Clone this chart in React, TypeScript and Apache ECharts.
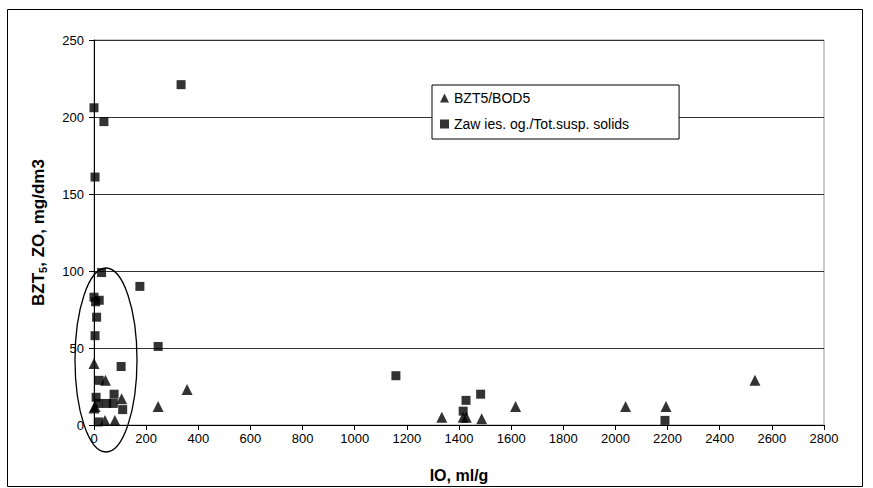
import React, { useEffect, useRef } from "react";
import * as echarts from "echarts";

// BZT5 / BOD5 (triangles)
const bodIO = [0, 44, 106, 4, 0, 42, 80, 246, 357, 1334, 1416, 1428, 1487, 1617, 2039, 2194, 2535];
const bodVal = [40, 29, 17, 12, 11, 3, 3, 12, 23, 5, 5, 5, 4, 12, 12, 12, 29];

// Zawiesiny ogólne / Total suspended solids (squares)
const tssIO = [0, 38, 4, 334, 29, 176, 0, 20, 6, 10, 4, 246, 104, 20, 8, 77, 17, 49, 74, 110, 17, 1158, 1427, 1483, 1416, 2190];
const tssVal = [206, 197, 161, 221, 99, 90, 83, 81, 80, 70, 58, 51, 38, 29, 18, 20, 14, 14, 14, 10, 2, 32, 16, 20, 9, 3];

const xTicks = { min: 0, max: 2800, interval: 200 };
const yTicks = { min: 0, max: 250, interval: 50 };

const bodName = "BZT5/BOD5";
const tssName = "Zaw ies. og./Tot.susp. solids";

const FONT = "'Liberation Sans', Arial, sans-serif";

export default function App() {
  const ref = useRef<HTMLDivElement>(null);
  useEffect(() => {
    document.body.style.margin = "0";
    const chart = echarts.init(ref.current!, null, { renderer: "svg" });
    chart.setOption({
      animation: false,
      backgroundColor: "#fff",
      grid: {
        left: 94,
        top: 40,
        right: 49,
        bottom: 63,
        show: true,
        borderColor: "#999",
        borderWidth: 1,
        backgroundColor: "transparent",
      },
      xAxis: {
        type: "value",
        min: xTicks.min,
        max: xTicks.max,
        interval: xTicks.interval,
        name: "IO, ml/g",
        nameLocation: "middle",
        nameGap: 42,
        nameTextStyle: { fontFamily: FONT, fontWeight: "bold", fontSize: 16, color: "#000" },
        axisLine: { show: true, lineStyle: { color: "#000", width: 1 } },
        axisTick: { show: true, inside: false, length: 5, lineStyle: { color: "#000" } },
        axisLabel: { fontFamily: FONT, fontSize: 13, color: "#000", margin: 7, formatter: (v: number) => String(v) },
        splitLine: { show: false },
      },
      yAxis: {
        type: "value",
        min: yTicks.min,
        max: yTicks.max,
        interval: yTicks.interval,
        name: "{a|BZT}{b|5}{a|, ZO, mg/dm3}",
        nameLocation: "middle",
        nameGap: 46,
        nameRotate: 90,
        nameTextStyle: {
          rich: {
            a: { fontFamily: FONT, fontWeight: "bold", fontSize: 17, color: "#000", lineHeight: 20 },
            b: { fontFamily: FONT, fontWeight: "bold", fontSize: 11, color: "#000", lineHeight: 20, verticalAlign: "bottom", padding: [7, 0, 0, 0] },
          },
        },
        axisLine: { show: true, lineStyle: { color: "#000", width: 1 } },
        axisTick: { show: true, inside: false, length: 5, lineStyle: { color: "#000" } },
        axisLabel: { fontFamily: FONT, fontSize: 13, color: "#000", margin: 10 },
        splitLine: { show: true, lineStyle: { color: "#333", width: 1 } },
      },
      legend: {
        left: 432,
        top: 85,
        orient: "vertical",
        itemWidth: 9,
        itemHeight: 9,
        itemGap: 12,
        padding: [6, 50, 8, 8],
        borderColor: "#000",
        borderWidth: 1,
        backgroundColor: "#fff",
        textStyle: { fontFamily: FONT, fontSize: 14, color: "#000" },
        data: [
          { name: bodName, icon: "triangle" },
          { name: tssName, icon: "rect" },
        ],
      },
      series: [
        {
          name: bodName,
          type: "scatter",
          symbol: "triangle",
          symbolSize: 11,
          itemStyle: { color: "#000" },
          data: bodIO.map((x, i) => [x, bodVal[i]]),
          z: 3,
        },
        {
          name: tssName,
          type: "scatter",
          symbol: "rect",
          symbolSize: 9,
          itemStyle: { color: "#000" },
          data: tssIO.map((x, i) => [x, tssVal[i]]),
          z: 3,
        },
      ],
      graphic: [
        {
          type: "rect",
          shape: { x: 7.5, y: 9.5, width: 855, height: 477 },
          style: { fill: "none", stroke: "#000", lineWidth: 1 },
          z: 0,
          silent: true,
        },
        {
          type: "ellipse",
          shape: { cx: 106, cy: 360, rx: 31, ry: 92 },
          style: { fill: "none", stroke: "#000", lineWidth: 1.3 },
          z: 100,
          silent: true,
        },
      ],
    });
    return () => chart.dispose();
  }, []);
  return <div ref={ref} style={{ width: 873, height: 488 }} />;
}
